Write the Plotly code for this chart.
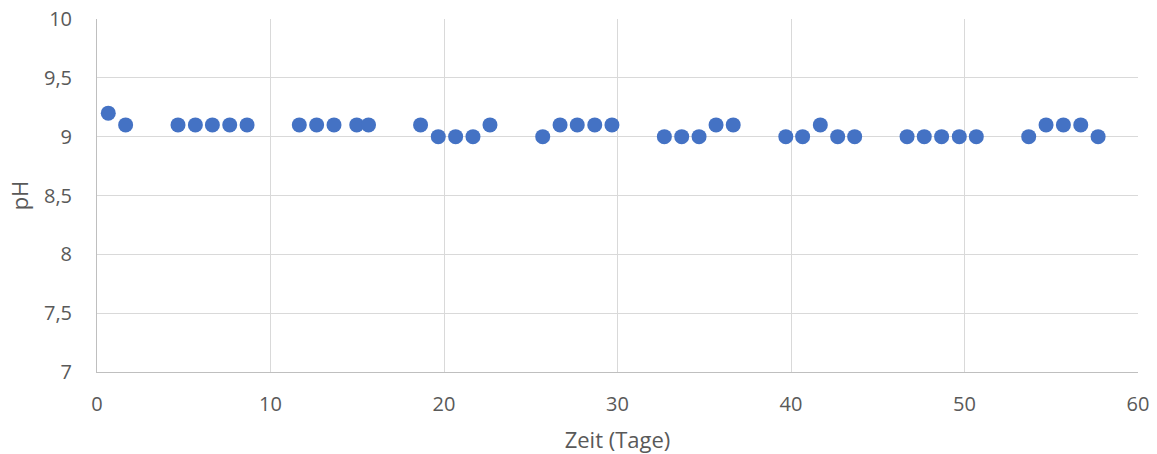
import plotly.graph_objects as go

days = [0.65, 1.65,
        4.67, 5.67, 6.65, 7.65, 8.65,
        11.66, 12.66, 13.66, 14.97, 15.65,
        18.65, 19.67, 20.67, 21.67, 22.65,
        25.69, 26.69, 27.68, 28.69, 29.68,
        32.7, 33.7, 34.7, 35.68, 36.67,
        39.7, 40.67, 41.69, 42.69, 43.67,
        46.69, 47.68, 48.68, 49.7, 50.68,
        53.7, 54.7, 55.7, 56.7, 57.7]
ph = [9.2, 9.1,
      9.1, 9.1, 9.1, 9.1, 9.1,
      9.1, 9.1, 9.1, 9.1, 9.1,
      9.1, 9.0, 9.0, 9.0, 9.1,
      9.0, 9.1, 9.1, 9.1, 9.1,
      9.0, 9.0, 9.0, 9.1, 9.1,
      9.0, 9.0, 9.1, 9.0, 9.0,
      9.0, 9.0, 9.0, 9.0, 9.0,
      9.0, 9.1, 9.1, 9.1, 9.0]

x_ticks = [0, 10, 20, 30, 40, 50, 60]
y_ticks = [7, 7.5, 8, 8.5, 9, 9.5, 10]
y_tick_labels = ["7", "7,5", "8", "8,5", "9", "9,5", "10"]

font_family = "Open Sans, Lato, sans-serif"
text_color = "#595959"

fig = go.Figure(go.Scatter(
    x=days, y=ph, mode="markers",
    marker=dict(size=15, color="#4472C4", line=dict(width=0)),
    cliponaxis=False,
))

fig.update_layout(
    width=1157, height=454,
    margin=dict(l=97, r=19, t=19, b=82),
    paper_bgcolor="white", plot_bgcolor="white",
    showlegend=False,
    font=dict(family=font_family, color=text_color, size=20),
)
fig.update_xaxes(
    range=[0, 60], tickvals=x_ticks, ticktext=[str(v) for v in x_ticks],
    showgrid=True, gridcolor="#d9d9d9", gridwidth=1,
    showline=True, linecolor="#bfbfbf", linewidth=1,
    zeroline=False, ticks="", automargin=False,
    ticklabelstandoff=14, ticklabeloverflow="allow",
    tickfont=dict(size=20, color=text_color),
    title=dict(text="Zeit (Tage)", font=dict(size=22, color=text_color), standoff=16),
)
fig.update_yaxes(
    range=[7, 10], tickvals=y_ticks, ticktext=y_tick_labels,
    showgrid=True, gridcolor="#d9d9d9", gridwidth=1,
    showline=True, linecolor="#bfbfbf", linewidth=1,
    zeroline=False, ticks="", automargin=False,
    ticklabelstandoff=20, ticklabeloverflow="allow",
    tickfont=dict(size=20, color=text_color),
    title=dict(text="pH", font=dict(size=22, color=text_color), standoff=9),
)

fig.write_html(
    "out.html",
    config={"displayModeBar": False},
    post_script="document.body.style.margin='0';document.body.style.overflow='hidden';",
)
